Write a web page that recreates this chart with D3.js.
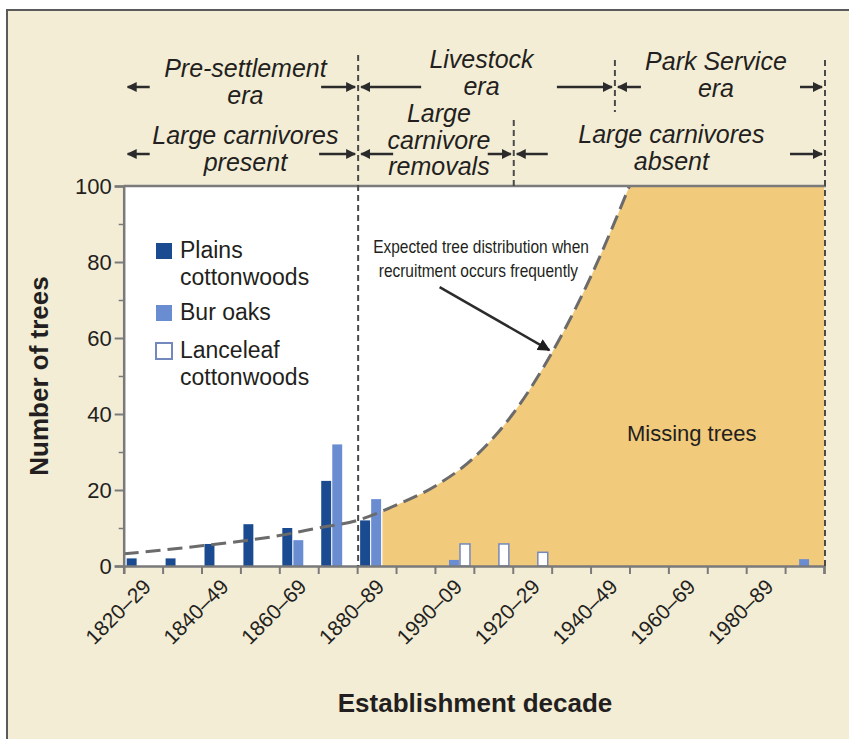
<!DOCTYPE html>
<html>
<head>
<meta charset="utf-8">
<script src="https://cdn.jsdelivr.net/npm/d3@7/dist/d3.min.js"></script>
<style>
  body { margin: 0; background: #fff; }
  text { font-family: "Liberation Sans", Arial, Helvetica, sans-serif; fill: #231f20; }
</style>
</head>
<body>
<script>
// decades (start year) and the labels printed under every other one
var decades = [1820, 1830, 1840, 1850, 1860, 1870, 1880, 1890, 1900,
               1910, 1920, 1930, 1940, 1950, 1960, 1970, 1980, 1990];
var tickLabels = ["1820–29", "", "1840–49", "", "1860–69", "", "1880–89", "",
                  "1990–09", "", "1920–29", "", "1940–49", "", "1960–69", "",
                  "1980–89", ""];

// number of trees per decade
var plains    = [2, 2, 5.8, 11, 10, 22.4, 12, 0, 0, 0, 0, 0, 0, 0, 0, 0, 0, 0];
var burOaks   = [0, 0, 0, 0, 6.8, 32, 17.6, 0, 1.6, 0, 0, 0, 0, 0, 0, 0, 0, 1.8];
var lanceleaf = [0, 0, 0, 0, 0, 0, 0, 0, 5.8, 5.8, 3.6, 0, 0, 0, 0, 0, 0, 0];

// expected distribution (dashed curve)
var expectedYears  = [1820, 1830, 1840, 1850, 1860, 1870, 1880, 1890, 1900, 1910, 1920, 1930, 1940, 1950];
var expectedValues = [3.2, 4.2, 5.3, 6.5, 8, 10, 12, 16, 21, 28.5, 40, 56, 76, 100];
var missingFrom = 1886.5;

// periods along the top
var eraLabels = [["Pre-settlement", "era"], ["Livestock", "era"], ["Park Service", "era"]];
var eraBounds = [1820, 1880, 1946, 2000];
var carnLabels = [["Large carnivores", "present"], ["Large", "carnivore", "removals"], ["Large carnivores", "absent"]];
var carnBounds = [1820, 1880, 1920, 2000];

var yTicks = [0, 20, 40, 60, 80, 100];

var W = 849, H = 739;
var pLeft = 123.7, pRight = 824, pTop = 186, pBottom = 566;

var svg = d3.select("body").append("svg")
    .attr("width", W)
    .attr("height", H);

// background + frame
svg.append("rect")
    .attr("x", 7).attr("y", 10)
    .attr("width", 860).attr("height", 760)
    .attr("fill", "#f3edd6")
    .attr("stroke", "#5a5a5a")
    .attr("stroke-width", 2);

var x = d3.scaleBand()
    .domain(decades)
    .range([pLeft, pRight]);
var xYear = d3.scaleLinear()
    .domain([1820, 2000])
    .range([pLeft, pRight]);
var y = d3.scaleLinear()
    .domain([0, 100])
    .range([pBottom, pTop]);
var xSub = d3.scaleBand()
    .domain(["plains", "bur", "lance"])
    .range([3, 35])
    .paddingInner(0.1);

svg.append("rect")
    .attr("x", pLeft).attr("y", pTop)
    .attr("width", pRight - pLeft).attr("height", pBottom - pTop)
    .attr("fill", "#fff");

// missing trees area: under the curve, then full height once it reaches 100
var expected = expectedYears.map(function(d, i) { return {year: d, v: expectedValues[i]}; });
var lastYear = expectedYears[expectedYears.length - 1];
var curveGen = d3.curveMonotoneX;

svg.append("clipPath").attr("id", "missclip")
  .append("rect")
    .attr("x", xYear(missingFrom)).attr("y", pTop)
    .attr("width", pRight - xYear(missingFrom)).attr("height", pBottom - pTop);

var missing = svg.append("g").attr("clip-path", "url(#missclip)");
missing.append("path")
    .datum(expected)
    .attr("fill", "#f2ca7b")
    .attr("d", d3.area()
        .curve(curveGen)
        .x(function(d) { return xYear(d.year); })
        .y0(y(0))
        .y1(function(d) { return y(d.v); }));
missing.append("rect")
    .attr("x", xYear(lastYear) - 0.5).attr("y", y(100))
    .attr("width", pRight - xYear(lastYear) + 0.5).attr("height", y(0) - y(100))
    .attr("fill", "#f2ca7b");

// bars
var series = [
  {key: "plains", values: plains, fill: "#1a4a8f", stroke: "none"},
  {key: "bur", values: burOaks, fill: "#6a8dd2", stroke: "none"},
  {key: "lance", values: lanceleaf, fill: "#fff", stroke: "#7389bd"}
];
series.forEach(function(s) {
  var data = decades.map(function(d, i) { return {decade: d, v: s.values[i]}; })
      .filter(function(d) { return d.v > 0; });
  svg.selectAll(".bar-" + s.key)
      .data(data)
    .enter().append("rect")
      .attr("class", "bar-" + s.key)
      .attr("x", function(d) { return x(d.decade) + xSub(s.key); })
      .attr("width", xSub.bandwidth())
      .attr("y", function(d) { return y(d.v); })
      .attr("height", function(d) { return y(0) - y(d.v); })
      .attr("fill", s.fill)
      .attr("stroke", s.stroke)
      .attr("stroke-width", 1.5);
});

// expected curve
svg.append("path")
    .datum(expected)
    .attr("fill", "none")
    .attr("stroke", "#6b6b6b")
    .attr("stroke-width", 3)
    .attr("stroke-dasharray", "15,7")
    .attr("d", d3.line()
        .curve(curveGen)
        .x(function(d) { return xYear(d.year); })
        .y(function(d) { return y(d.v); }));

// axes
var axisColor = "#7a7a7a";
svg.append("line")
    .attr("x1", pLeft).attr("x2", pRight + 2)
    .attr("y1", pTop).attr("y2", pTop)
    .attr("stroke", axisColor).attr("stroke-width", 2.5);

var yAxis = svg.append("g")
    .attr("transform", "translate(" + pLeft + ",0)")
    .call(d3.axisLeft(y).tickValues(yTicks).tickSize(9).tickPadding(3));
svg.append("g")
    .attr("transform", "translate(" + pLeft + ",0)")
    .call(d3.axisLeft(y).tickValues([10, 30, 50, 70, 90]).tickSize(5).tickFormat(""))
    .call(function(g) { g.select(".domain").remove(); })
    .selectAll("line").attr("stroke", axisColor).attr("stroke-width", 1.5);
yAxis.select(".domain").attr("stroke", axisColor).attr("stroke-width", 2.5);
yAxis.selectAll(".tick line").attr("stroke", axisColor).attr("stroke-width", 2);
yAxis.selectAll(".tick text")
    .style("font-size", "22px")
    .style("font-family", "'Liberation Sans', Arial, sans-serif")
    .attr("fill", "#231f20");

var xAxis = svg.append("g")
    .attr("transform", "translate(0," + pBottom + ")")
    .call(d3.axisBottom(xYear).tickValues(decades.concat([2000])).tickSize(8).tickFormat(""));
xAxis.select(".domain").attr("stroke", axisColor).attr("stroke-width", 2.5);
xAxis.selectAll(".tick line").attr("stroke", axisColor).attr("stroke-width", 2);

svg.selectAll(".xlabel")
    .data(decades.filter(function(d, i) { return tickLabels[i] !== ""; }))
  .enter().append("text")
    .attr("class", "xlabel")
    .attr("text-anchor", "end")
    .attr("transform", function(d) {
      return "translate(" + (x(d) + x.bandwidth() / 2 + 9) + "," + (pBottom + 22) + ") rotate(-45)";
    })
    .style("font-size", "21px")
    .text(function(d) { return tickLabels[decades.indexOf(d)]; });

// axis titles
svg.append("text")
    .attr("text-anchor", "middle")
    .attr("transform", "translate(48," + ((pTop + pBottom) / 2) + ") rotate(-90)")
    .style("font-size", "26px").style("font-weight", "bold")
    .text("Number of trees");
svg.append("text")
    .attr("text-anchor", "middle")
    .attr("x", 475).attr("y", 712)
    .style("font-size", "26px").style("font-weight", "bold")
    .text("Establishment decade");

// vertical dashed dividers
var dividers = [
  {year: 1880, y1: 55, y2: pBottom},
  {year: 1920, y1: 120, y2: pTop},
  {year: 1946, y1: 60, y2: 112},
  {year: 2000, y1: 60, y2: pBottom}
];
svg.selectAll(".divider")
    .data(dividers)
  .enter().append("line")
    .attr("x1", function(d) { return xYear(d.year) + 1; })
    .attr("x2", function(d) { return xYear(d.year) + 1; })
    .attr("y1", function(d) { return d.y1; })
    .attr("y2", function(d) { return d.y2; })
    .attr("stroke", "#4a4a4a")
    .attr("stroke-width", 2)
    .attr("stroke-dasharray", "6,4");

// arrow marker
var defs = svg.append("defs");
defs.append("marker")
    .attr("id", "head")
    .attr("viewBox", "0 0 10 10")
    .attr("refX", 9).attr("refY", 5)
    .attr("markerWidth", 4).attr("markerHeight", 4)
    .attr("orient", "auto")
  .append("path")
    .attr("d", "M0,0L10,5L0,10z")
    .attr("fill", "#2b2b2b");

// period labels with arrows
function periods(labels, bounds, firstY, arrowY, arrowLens, offsets) {
  labels.forEach(function(lines, i) {
    var x0 = xYear(bounds[i]), x1 = xYear(bounds[i + 1]);
    var cx = (x0 + x1) / 2 + offsets[i];
    lines.forEach(function(t, j) {
      svg.append("text")
          .attr("x", cx).attr("y", firstY[i] + j * 26.5)
          .attr("text-anchor", "middle")
          .style("font-size", "25px").style("font-style", "italic")
          .text(t);
    });
    var a = arrowLens[i];
    svg.append("line")
        .attr("x1", x0 + 4 + a[0]).attr("x2", x0 + 4)
        .attr("y1", arrowY).attr("y2", arrowY)
        .attr("stroke", "#2b2b2b").attr("stroke-width", 2.5)
        .attr("marker-end", "url(#head)");
    svg.append("line")
        .attr("x1", x1 - 2 - a[1]).attr("x2", x1 - 2)
        .attr("y1", arrowY).attr("y2", arrowY)
        .attr("stroke", "#2b2b2b").attr("stroke-width", 2.5)
        .attr("marker-end", "url(#head)");
  });
}
periods(eraLabels, eraBounds, [77, 68, 70], 87, [[22, 34], [60, 55], [23, 22]], [5, -4, -3]);
periods(carnLabels, carnBounds, [144, 122, 143], 154, [[22, 36], [32, 23], [31, 32]], [5, 4, 3]);

// legend
var legendItems = [
  {lines: ["Plains", "cottonwoods"], fill: "#1a4a8f", stroke: "none"},
  {lines: ["Bur oaks"], fill: "#6a8dd2", stroke: "none"},
  {lines: ["Lanceleaf", "cottonwoods"], fill: "#fff", stroke: "#7389bd"}
];
var legendY = [243, 305, 343];
legendItems.forEach(function(d, i) {
  svg.append("rect")
      .attr("x", 156).attr("y", legendY[i])
      .attr("width", 16).attr("height", 16)
      .attr("fill", d.fill).attr("stroke", d.stroke).attr("stroke-width", 2);
  d.lines.forEach(function(t, j) {
    svg.append("text")
        .attr("x", 180).attr("y", legendY[i] + 15 + j * 27)
        .style("font-size", "23px")
        .text(t);
  });
});

// curve annotation (condensed type)
var note = svg.append("g")
    .attr("transform", "translate(481,0) scale(0.86,1)");
note.append("text").attr("x", 0).attr("y", 253)
    .attr("text-anchor", "middle").style("font-size", "18px")
    .text("Expected tree distribution when");
note.append("text").attr("x", -3).attr("y", 277)
    .attr("text-anchor", "middle").style("font-size", "18px")
    .text("recruitment occurs frequently");

defs.append("marker")
    .attr("id", "bighead")
    .attr("viewBox", "0 0 10 10")
    .attr("refX", 9).attr("refY", 5)
    .attr("markerWidth", 5).attr("markerHeight", 5)
    .attr("orient", "auto")
  .append("path")
    .attr("d", "M0,0L10,5L0,10z")
    .attr("fill", "#1f1f1f");
svg.append("line")
    .attr("x1", xYear(1901.2)).attr("y1", y(73.4))
    .attr("x2", xYear(1929.4)).attr("y2", y(56.8))
    .attr("stroke", "#2b2b2b").attr("stroke-width", 2.5)
    .attr("marker-end", "url(#bighead)");

svg.append("text")
    .attr("x", xYear(1966)).attr("y", y(32.9))
    .attr("text-anchor", "middle")
    .style("font-size", "22px")
    .text("Missing trees");
</script>
</body>
</html>
